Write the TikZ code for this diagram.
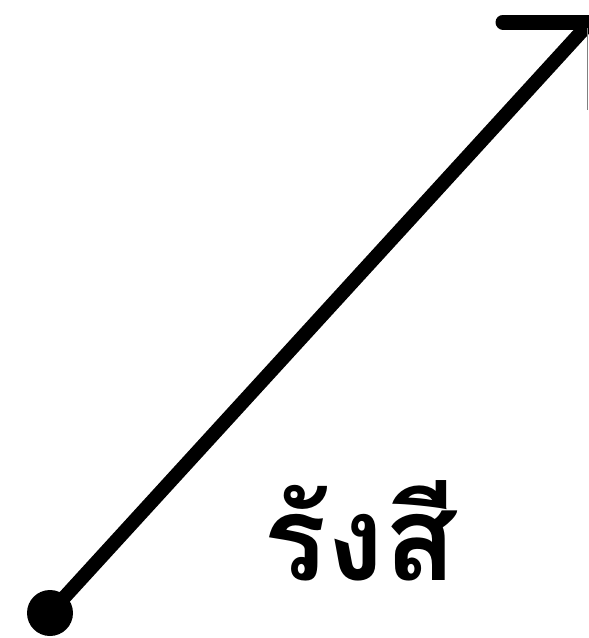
\documentclass[tikz,border=0pt]{standalone}
\usepackage{fontspec}
\newfontfamily\thaifont[Script=Thai]{Loma}
\begin{document}
\begin{tikzpicture}[x=1pt,y=-1pt,
  ray/.style={line width=14pt,line cap=round},
  lbl/.style={font=\thaifont\bfseries\fontsize{118}{130}\selectfont,inner sep=0pt}]
\useasboundingbox (0,0) rectangle (589,638);
\coordinate (s) at (50,613);
\coordinate (e) at (583,30);
\coordinate (h) at (503,22);
\coordinate (hr) at (600,22);
\draw[ray] (s) -- (e);
\draw[line width=15pt,line cap=round] (h) -- (hr);
\draw[line width=1pt,gray] (587,28) -- (587,110);
\fill (s) circle (23);
\node[lbl,anchor=base] (t) at (360,580) {รังสี};
\end{tikzpicture}
\end{document}
